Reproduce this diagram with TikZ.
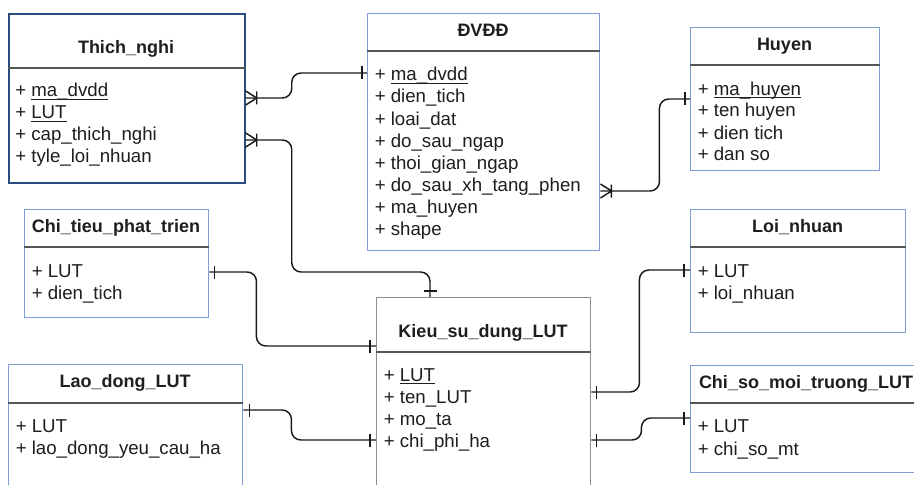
\documentclass[tikz,border=0pt]{standalone}
\usepackage{fontspec}
\setmainfont{Liberation Sans}
\usetikzlibrary{calc}
\definecolor{darkblue}{HTML}{2B4C7E}
\definecolor{lightblue}{HTML}{7F9ED3}
\definecolor{boxgray}{HTML}{8E8E8E}
\definecolor{sepgray}{HTML}{555555}
\definecolor{txt}{HTML}{1E1E1E}
\definecolor{conncol}{HTML}{1A1A1A}
\newcommand\myul[1]{\setbox0\hbox{#1}\rlap{\rule[-2.4pt]{\wd0}{0.8pt}}\box0}
\begin{document}
\begin{tikzpicture}[x=0.75pt,y=-0.75pt,
  entity/.style={draw=lightblue, line width=1.1pt, fill=white, anchor=north west, inner sep=0pt},
  sepline/.style={draw=sepgray, line width=1pt},
  ttl/.style={anchor=base, inner sep=0pt, text=txt, font=\fontsize{13.5}{16}\selectfont\bfseries},
  row/.style={anchor=base west, inner sep=0pt, text=txt, font=\fontsize{14}{16}\selectfont},
  conn/.style={draw=conncol, line width=1.1pt},
  barmark/.pic={\draw[conn] (0,-6.5) -- (0,6.5);},
  hbarmark/.pic={\draw[conn] (-6.5,0) -- (6.5,0);},
  crowmark/.pic={\draw[conn] (0,-7) -- (11,0) (0,7) -- (11,0) (11,-6.5) -- (11,6.5);}
]
\useasboundingbox (0,0) rectangle (914,485);
\clip (0,0) rectangle (914,485);
\fill[white] (0,0) rectangle (914,485);

% ---------- boxes ----------
\node[entity, draw=darkblue, line width=1.3pt, minimum width={236*0.75pt}, minimum height={169*0.75pt}] (thich) at (8,13) {};
\node[entity, minimum width={232*0.75pt}, minimum height={237*0.75pt}] (dvdd) at (367,13) {};
\node[entity, minimum width={189*0.75pt}, minimum height={143*0.75pt}] (huyen) at (690,27) {};
\node[entity, minimum width={184*0.75pt}, minimum height={108*0.75pt}] (chitieu) at (24,209) {};
\node[entity, draw=boxgray, minimum width={214*0.75pt}, minimum height={210*0.75pt}] (kieu) at (376,297) {};
\node[entity, minimum width={234*0.75pt}, minimum height={140*0.75pt}] (lao) at (8,364) {};
\node[entity, minimum width={215*0.75pt}, minimum height={123*0.75pt}] (loi) at (690,209) {};
\node[entity, minimum width={232*0.75pt}, minimum height={107*0.75pt}] (chiso) at (690,365) {};

% ---------- separators ----------
\draw[sepline] ($(thich.north west)+(0,55)$) -- ($(thich.north east)+(0,55)$);
\draw[sepline] ($(dvdd.north west)+(0,38)$) -- ($(dvdd.north east)+(0,38)$);
\draw[sepline] ($(huyen.north west)+(0,38)$) -- ($(huyen.north east)+(0,38)$);
\draw[sepline] ($(chitieu.north west)+(0,38)$) -- ($(chitieu.north east)+(0,38)$);
\draw[sepline] ($(kieu.north west)+(0,55)$) -- ($(kieu.north east)+(0,55)$);
\draw[sepline] ($(lao.north west)+(0,39)$) -- ($(lao.north east)+(0,39)$);
\draw[sepline] ($(loi.north west)+(0,38)$) -- ($(loi.north east)+(0,38)$);
\draw[sepline] ($(chiso.north west)+(0,38)$) -- ($(chiso.north east)+(0,38)$);

% ---------- titles ----------
\node[ttl] (thichT) at (126,53.3) {Thich\_nghi};
\node[ttl] (dvddT) at (483,36.5) {ĐVĐĐ};
\node[ttl] (huyenT) at (784.5,50.5) {Huyen};
\node[ttl] (chitieuT) at (116,232.7) {Chi\_tieu\_phat\_trien};
\node[ttl] (kieuT) at (483,337.3) {Kieu\_su\_dung\_LUT};
\node[ttl] (laoT) at (125,387.3) {Lao\_dong\_LUT};
\node[ttl] (loiT) at (797.5,232.7) {Loi\_nhuan};
\node[ttl] (chisoT) at (806,388.3) {Chi\_so\_moi\_truong\_LUT};

% ---------- rows ----------
\node[row] (th1) at (15,96.5) {+ \myul{ma\_dvdd}};
\node[row] (th2) at (15,118.5) {+ \myul{LUT}};
\node[row] (th3) at (15,140.5) {+ cap\_thich\_nghi};
\node[row] (th4) at (15,162.5) {+ tyle\_loi\_nhuan};

\node[row] (dv1) at (374.5,81) {+ \myul{ma\_dvdd}};
\node[row] (dv2) at (374.5,103) {+ dien\_tich};
\node[row] (dv3) at (374.5,125) {+ loai\_dat};
\node[row] (dv4) at (374.5,147) {+ do\_sau\_ngap};
\node[row] (dv5) at (374.5,169) {+ thoi\_gian\_ngap};
\node[row] (dv6) at (374.5,191) {+ do\_sau\_xh\_tang\_phen};
\node[row] (dv7) at (374.5,213) {+ ma\_huyen};
\node[row] (dv8) at (374.5,235) {+ shape};

\node[row] (hu1) at (697.5,95) {+ \myul{ma\_huyen}};
\node[row] (hu2) at (697.5,117) {+ ten huyen};
\node[row] (hu3) at (697.5,139) {+ dien tich};
\node[row] (hu4) at (697.5,161) {+ dan so};

\node[row] (ct1) at (31.5,277.3) {+ LUT};
\node[row] (ct2) at (31.5,299) {+ dien\_tich};

\node[row] (ki1) at (383.5,381) {+ \myul{LUT}};
\node[row] (ki2) at (383.5,403) {+ ten\_LUT};
\node[row] (ki3) at (383.5,425) {+ mo\_ta};
\node[row] (ki4) at (383.5,447) {+ chi\_phi\_ha};

\node[row] (la1) at (15.5,432.7) {+ LUT};
\node[row] (la2) at (15.5,454.3) {+ lao\_dong\_yeu\_cau\_ha};

\node[row] (lo1) at (697.5,277.3) {+ LUT};
\node[row] (lo2) at (697.5,299) {+ loi\_nhuan};

\node[row] (cs1) at (697.5,432.7) {+ LUT};
\node[row] (cs2) at (697.5,455) {+ chi\_so\_mt};

% ---------- connector end points ----------
\coordinate (c1a) at (thich.east |- 0,98);
\coordinate (c1b) at (dvdd.west |- 0,73);
\coordinate (c2a) at (thich.east |- 0,140);
\coordinate (c2b) at ($(kieu.north west)+(54,0)$);
\coordinate (c3a) at (dvdd.east |- 0,191);
\coordinate (c3b) at (huyen.west |- 0,99);
\coordinate (c4a) at (chitieu.east |- 0,272);
\coordinate (c4b) at (kieu.west |- 0,346);
\coordinate (c5a) at (lao.east |- 0,410);
\coordinate (c5b) at (kieu.west |- 0,440);
\coordinate (c6a) at (kieu.east |- 0,392);
\coordinate (c6b) at (loi.west |- 0,270);
\coordinate (c7a) at (kieu.east |- 0,440);
\coordinate (c7b) at (chiso.west |- 0,418);

% ---------- connectors ----------
\draw[conn, rounded corners=7pt] (c1a) -- ++(46,0) |- (c1b);
\draw[conn, rounded corners=7pt] (c2a) -- ++(46,0) |- ($(c2b)+(0,-25)$) -- (c2b);
\draw[conn, rounded corners=7pt] (c3a) -- ++(59,0) |- (c3b);
\draw[conn, rounded corners=7pt] (c4a) -- ++(47,0) |- (c4b);
\draw[conn, rounded corners=7pt] (c5a) -- ++(48,0) |- (c5b);
\draw[conn, rounded corners=7pt] (c6a) -- ++(48,0) |- (c6b);
\draw[conn, rounded corners=7pt] (c7a) -- ++(50,0) |- (c7b);

% ---------- cardinality marks ----------
\pic at (c1a) {crowmark};
\pic at (c2a) {crowmark};
\pic at (c3a) {crowmark};
\pic at ($(c1b)+(-5,0)$) {barmark};
\pic at ($(c2b)+(0,-6)$) {hbarmark};
\pic at ($(c3b)+(-5,0)$) {barmark};
\pic at ($(c4a)+(5,0)$) {barmark};
\pic at ($(c4b)+(-6,0)$) {barmark};
\pic at ($(c5a)+(6,0)$) {barmark};
\pic at ($(c5b)+(-6,0)$) {barmark};
\pic at ($(c6a)+(5,0)$) {barmark};
\pic at ($(c6b)+(-6,0)$) {barmark};
\pic at ($(c7a)+(5,0)$) {barmark};
\pic at ($(c7b)+(-6,0)$) {barmark};
\end{tikzpicture}
\end{document}
